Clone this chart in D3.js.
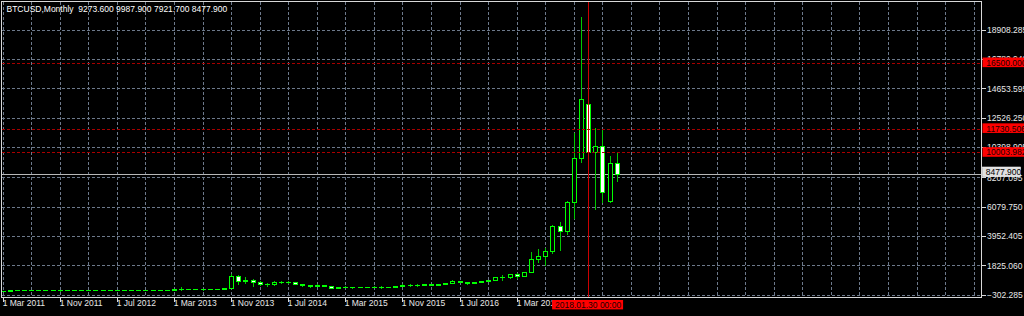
<!DOCTYPE html>
<html><head><meta charset="utf-8">
<script src="https://cdn.jsdelivr.net/npm/d3@7"></script>
<style>
html,body{margin:0;padding:0;background:#000;overflow:hidden}
svg{display:block}
text{font-family:"Liberation Sans",Arial,sans-serif;font-size:8.5px}
</style>
</head><body>
<svg id="c" width="1024" height="316"></svg>
<script>
// ---------- data ----------
const title = "BTCUSD,Monthly  9273.600 9987.900 7921.700 8477.900";
const months = [
 "2011-03","2011-04","2011-05","2011-06","2011-07","2011-08","2011-09","2011-10","2011-11","2011-12",
 "2012-01","2012-02","2012-03","2012-04","2012-05","2012-06","2012-07","2012-08","2012-09","2012-10","2012-11","2012-12",
 "2013-01","2013-02","2013-03","2013-04","2013-05","2013-06","2013-07","2013-08","2013-09","2013-10","2013-11","2013-12",
 "2014-01","2014-02","2014-03","2014-04","2014-05","2014-06","2014-07","2014-08","2014-09","2014-10","2014-11","2014-12",
 "2015-01","2015-02","2015-03","2015-04","2015-05","2015-06","2015-07","2015-08","2015-09","2015-10","2015-11","2015-12",
 "2016-01","2016-02","2016-03","2016-04","2016-05","2016-06","2016-07","2016-08","2016-09","2016-10","2016-11","2016-12",
 "2017-01","2017-02","2017-03","2017-04","2017-05","2017-06","2017-07","2017-08","2017-09","2017-10","2017-11","2017-12",
 "2018-01","2018-02","2018-03","2018-04","2018-05"];
const opens = [
 0.86,0.78,3.50,8.74,16.10,13.35,8.20,5.14,3.25,2.97,
 4.72,5.50,4.86,4.90,4.95,5.14,6.68,9.33,10.17,12.40,11.20,12.57,
 13.51,20.41,33.38,93.03,139.23,129.00,97.51,106.21,141.00,141.89,211.17,1078,
 714,775,598,440,448,630,640,586,478,387,338,378,
 320,217,254,244,236,230,263,285,230,236,314,378,
 430,368,437,416,448,531,673,624,573,609,698,742,
 963,970,1190,1080,1350,2300,2480,2875,4700,4340,6380,9600,
 13500,10030,10500,6480,9273.6];
const highs = [
 0.95,3.50,8.90,31.90,17.50,13.90,8.60,5.20,3.50,4.90,
 7.40,6.20,5.40,5.30,5.20,6.70,9.60,15.40,12.90,12.60,12.80,13.80,
 20.40,33.40,95.70,266.00,139.90,129.00,110.00,140.00,145.00,219.00,1163,1160,
 990,800,720,560,680,680,660,600,490,415,460,390,
 320,265,300,260,247,268,318,320,245,330,500,470,
 460,445,440,470,550,780,700,630,620,720,760,980,
 1150,1200,1300,1360,2790,3000,3050,4750,4980,6470,11400,19830,
 17200,11780,11680,9760,9987.9];
const lows = [
 0.67,0.56,2.80,6.00,12.00,6.70,4.50,2.10,2.00,2.80,
 4.60,4.20,4.60,4.80,4.90,5.20,6.50,7.10,9.80,9.80,10.50,12.50,
 13.20,19.10,33.00,50.00,79.10,86.50,65.50,100.00,116.00,110.00,205,455,
 565,330,400,340,420,550,570,440,360,275,320,300,
 170,212,235,214,226,220,255,200,225,236,310,350,
 350,365,405,410,440,520,600,470,570,605,680,740,
 750,920,890,1080,1350,2070,1830,2700,2970,4100,5250,9350,
 9000,5900,6440,6420,7921.7];
const closes = [
 0.78,3.50,8.74,16.10,13.35,8.20,5.14,3.25,2.97,4.72,
 5.50,4.86,4.90,4.95,5.14,6.68,9.33,10.17,12.40,11.20,12.57,13.51,
 20.41,33.38,93.03,139.23,129.00,97.51,106.21,141.00,141.89,211.17,1078,714,
 775,598,440,448,630,640,586,478,387,338,378,320,
 217,254,244,236,230,263,285,230,236,314,378,430,
 368,437,416,448,531,673,624,573,609,698,742,963,
 970,1190,1080,1350,2300,2480,2875,4700,4340,6380,9600,13900,
 10030,10500,7120,9273.6,8477.9];
const priceTicks = [-302.285,1825.060,3952.405,6079.750,8207.095,10398.905,12526.250,14653.595,16780.940,18908.285];
const levelLines = [16500.000, 11730.506, 10003.982];
const bidPrice = 8477.900;
const cursorMonth = "2018-01";
const cursorLabel = "2018.01.30 00:00";
const monthNames = ["Jan","Feb","Mar","Apr","May","Jun","Jul","Aug","Sep","Oct","Nov","Dec"];
const gridEvery = 4, labelEvery = 8, slotsShown = 137;

// ---------- layout ----------
const W = 1024, H = 316;
const plot = {l:1.5, t:1.5, r:981.5, b:297.5};
const svg = d3.select("#c");
svg.append("rect").attr("width",W).attr("height",H).attr("fill","#000");

const x = d3.scaleLinear().domain([0, slotsShown]).range([2.6, 2.6 + slotsShown*7.14]);
const y = d3.scaleLinear().domain([-302.285, 18908.285]).range([294.7, 29.6]);
const px = v => Math.round(v) + 0.5;

svg.append("clipPath").attr("id","clip").append("rect")
  .attr("x",plot.l).attr("y",plot.t).attr("width",plot.r-plot.l).attr("height",plot.b-plot.t);

const gridColor = "#6d798b";
const grid = svg.append("g").attr("clip-path","url(#clip)").attr("shape-rendering","crispEdges");
grid.selectAll("line.h").data(priceTicks).join("line")
  .attr("x1",plot.l).attr("x2",plot.r).attr("y1",d=>px(y(d))).attr("y2",d=>px(y(d)))
  .attr("stroke",gridColor).attr("stroke-dasharray","3,2");
const gridIdx = d3.range(0, slotsShown, gridEvery);
grid.selectAll("line.v").data(gridIdx).join("line")
  .attr("x1",d=>px(x(d))).attr("x2",d=>px(x(d))).attr("y1",plot.t).attr("y2",plot.b)
  .attr("stroke",gridColor).attr("stroke-dasharray","3,2");

// bid line
grid.append("line").attr("x1",plot.l).attr("x2",plot.r)
  .attr("y1",px(y(bidPrice))).attr("y2",px(y(bidPrice))).attr("stroke","#b8b8b8");

// candles
const bars = months.map((m,i)=>({i,m,o:opens[i],h:highs[i],l:lows[i],c:closes[i]}));
const gC = svg.append("g").attr("clip-path","url(#clip)").attr("shape-rendering","crispEdges");
const bodyColor = "#00ff00", wickColor = "#00c800";
bars.forEach(b=>{
  const cx = px(x(b.i));
  gC.append("line").attr("x1",cx).attr("x2",cx).attr("y1",Math.round(y(b.h))).attr("y2",Math.round(y(b.l))+1)
    .attr("stroke",wickColor);
  const yo = y(b.o), yc = y(b.c);
  const top = px(Math.min(yo,yc)), bot = px(Math.max(yo,yc));
  if (bot - top < 1) {
    gC.append("line").attr("x1",cx-2.5).attr("x2",cx+2.5).attr("y1",top).attr("y2",top).attr("stroke",bodyColor);
  } else {
    gC.append("rect").attr("x",cx-2).attr("y",top).attr("width",4).attr("height",bot-top)
      .attr("fill", b.c >= b.o ? "#000" : "#ffffff").attr("stroke",bodyColor);
  }
});

// level lines (red dashed)
const gL = svg.append("g").attr("clip-path","url(#clip)").attr("shape-rendering","crispEdges");
gL.selectAll("line").data(levelLines).join("line")
  .attr("x1",plot.l).attr("x2",plot.r).attr("y1",d=>px(y(d))).attr("y2",d=>px(y(d)))
  .attr("stroke","#a80000").attr("stroke-dasharray","3,2");
// cursor vertical line
const ci = months.indexOf(cursorMonth);
gL.append("line").attr("x1",px(x(ci))).attr("x2",px(x(ci))).attr("y1",plot.t).attr("y2",plot.b)
  .attr("stroke","#cc0000");

// border
svg.append("rect").attr("x",plot.l).attr("y",plot.t).attr("width",plot.r-plot.l).attr("height",plot.b-plot.t)
  .attr("fill","none").attr("stroke","#d8d8d8").attr("shape-rendering","crispEdges");

// right axis
const yAxis = d3.axisRight(y).tickValues(priceTicks).tickFormat(d3.format(".3f")).tickSize(4).tickPadding(1.5);
const ga = svg.append("g").attr("transform",`translate(${plot.r},0)`).call(yAxis);
ga.select(".domain").remove();
ga.attr("font-size",null).attr("font-family",null);
ga.selectAll(".tick line").attr("stroke","#d8d8d8").attr("shape-rendering","crispEdges");
ga.selectAll(".tick text").attr("fill","#e8e8e8");

// bottom axis
const lastIdx = months.length - 1;
const labelIdx = d3.range(0, lastIdx + 1, labelEvery);
const fmtMonth = i => { const [yy,mm] = months[i].split("-"); return "1 " + monthNames[+mm-1] + " " + yy; };
const xAxis = d3.axisBottom(x).tickValues(labelIdx).tickFormat(fmtMonth).tickSize(4).tickPadding(2);
const gb = svg.append("g").attr("transform",`translate(0,${plot.b})`).call(xAxis);
gb.select(".domain").remove();
gb.attr("font-size",null).attr("font-family",null);
gb.selectAll(".tick").attr("transform", d=>`translate(${px(x(d))},0)`);
gb.selectAll(".tick line").attr("stroke","#d8d8d8").attr("shape-rendering","crispEdges");
gb.selectAll(".tick text").attr("fill","#e8e8e8").attr("text-anchor","start").attr("x",-0.8).attr("y",2).attr("dy","0.71em");

// red level labels
const boxes = svg.append("g");
levelLines.forEach(v=>{
  const yy = y(v);
  boxes.append("rect").attr("x",982.5).attr("y",yy-5.3).attr("width",42).attr("height",9.6).attr("fill","#ff0000");
  boxes.append("text").attr("x",986.3).attr("y",yy).attr("dy","0.34em").attr("fill","#200000").text(d3.format(".3f")(v));
});
// bid label
{
  const yy = y(bidPrice) - 1.5;
  boxes.append("rect").attr("x",982.5).attr("y",yy-5).attr("width",38).attr("height",9.6)
    .attr("fill","#e0e0e0").attr("stroke","#ffffff").attr("stroke-width",0.6);
  boxes.append("text").attr("x",985.8).attr("y",yy).attr("dy","0.34em").attr("fill","#000").text(d3.format(".3f")(bidPrice));
}
// cursor time label
{
  const cx = x(ci);
  boxes.append("rect").attr("x",cx-36).attr("y",300).attr("width",71).attr("height",9.4).attr("fill","#ff0000");
  boxes.append("text").attr("x",cx).attr("y",308.2).attr("text-anchor","middle").attr("fill","#200000").text(cursorLabel);
}

// title
svg.append("text").attr("x",6.5).attr("y",12).attr("fill","#ffffff").style("white-space","pre").attr("xml:space","preserve").text(title);
</script>
</body></html>
